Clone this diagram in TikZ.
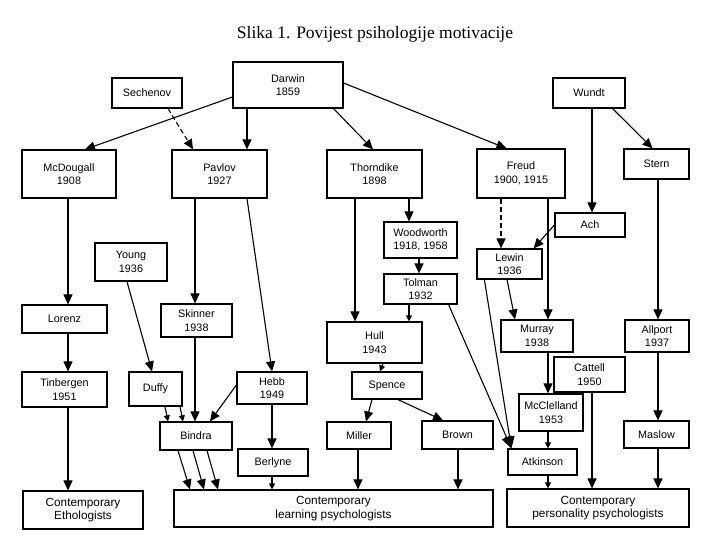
\documentclass[tikz,border=0pt]{standalone}
\usepackage{fontspec}
\setmainfont{Liberation Serif}
\setsansfont{Liberation Sans}
\usetikzlibrary{arrows.meta}

\begin{document}
\begin{tikzpicture}[x=1pt,y=-1pt,
    box/.style={draw, line width=1.2pt, align=center, inner sep=0pt, font=\sffamily\fontsize{10.8}{13.5}\selectfont},
    bigbox/.style={box, font=\sffamily\fontsize{11.8}{13.5}\selectfont},
    arr/.style={line width=1.1pt, -{Triangle[width=9pt,length=10pt]}},
    barr/.style={line width=1.1pt, -{Triangle[width=10pt,length=12pt]}},
    sarr/.style={line width=1.1pt, -{Triangle[width=6pt,length=6pt]}},
    darr/.style={arr, dash pattern=on 5pt off 3pt}]
\useasboundingbox (0,0) rectangle (720,540);
\node[font=\fontsize{17.5}{20}\selectfont] (title) at (375,34) {Slika 1. Povijest psihologije motivacije};

% first row
\node[box, minimum width=110pt, minimum height=46pt] (darwin) at (288,85) {Darwin\\1859};
\node[box, minimum width=70pt, minimum height=30pt] (sechenov) at (147,93) {Sechenov};
\node[box, minimum width=72pt, minimum height=30pt] (wundt) at (589,93) {Wundt};

% second row
\node[box, minimum width=94pt, minimum height=48pt] (mcdougall) at (69,174) {McDougall\\1908};
\node[box, minimum width=95pt, minimum height=48pt] (pavlov) at (219.5,174) {Pavlov\\1927};
\node[box, minimum width=95pt, minimum height=48pt] (thorndike) at (374.5,174) {Thorndike\\1898};
\node[box, minimum width=88pt, minimum height=49pt] (freud) at (521,173.5) {Freud\\1900, 1915};
\node[box, minimum width=65pt, minimum height=30pt] (stern) at (656.5,164) {Stern};

\node[box, minimum width=70pt, minimum height=24pt] (ach) at (590,225) {Ach};
\node[box, minimum width=73pt, minimum height=36pt] (woodworth) at (420.5,240) {Woodworth\\1918, 1958};
\node[box, minimum width=73pt, minimum height=30pt] (tolman) at (420.5,289) {Tolman\\1932};
\node[box, minimum width=65pt, minimum height=30pt] (lewin) at (509.5,264) {Lewin\\1936};
\node[box, minimum width=72pt, minimum height=38pt] (young) at (131,262) {Young\\1936};

\node[box, minimum width=85pt, minimum height=28pt] (lorenz) at (64.5,319) {Lorenz};
\node[box, minimum width=71pt, minimum height=33pt] (skinner) at (196.5,320.5) {Skinner\\1938};
\node[box, minimum width=95pt, minimum height=41pt] (hull) at (374.5,342.5) {Hull\\1943};
\node[box, minimum width=72pt, minimum height=32pt] (murray) at (537,336) {Murray\\1938};
\node[box, minimum width=64pt, minimum height=32pt] (allport) at (657,336) {Allport\\1937};
\node[box, minimum width=71pt, minimum height=35pt] (cattell) at (589.5,374.5) {Cattell\\1950};

\node[box, minimum width=85pt, minimum height=35pt] (tinbergen) at (64.5,389.5) {Tinbergen\\1951};
\node[box, minimum width=53pt, minimum height=34pt] (duffy) at (155.5,389) {Duffy};
\node[box, minimum width=70pt, minimum height=32pt] (hebb) at (272,388) {Hebb\\1949};
\node[box, minimum width=70pt, minimum height=27pt] (spence) at (387,385.5) {Spence};
\node[box, minimum width=64pt, minimum height=37pt] (mcclelland) at (551,412.5) {McClelland\\1953};

\node[box, minimum width=72pt, minimum height=28pt] (bindra) at (196,436) {Bindra};
\node[box, minimum width=64pt, minimum height=27pt] (miller) at (359,435.5) {Miller};
\node[box, minimum width=71pt, minimum height=28pt] (brown) at (457.5,435) {Brown};
\node[box, minimum width=65pt, minimum height=27pt] (maslow) at (656.5,434.5) {Maslow};
\node[box, minimum width=70pt, minimum height=27pt] (berlyne) at (273,462.5) {Berlyne};
\node[box, minimum width=69pt, minimum height=26pt] (atkinson) at (542.5,462) {Atkinson};

% bottom row
\node[bigbox, minimum width=120pt, minimum height=38pt] (etho) at (83,510) {Contemporary\\Ethologists};
\node[bigbox, minimum width=319pt, minimum height=37pt] (learning) at (333.5,508.5) {Contemporary\\learning psychologists};
\node[bigbox, minimum width=182pt, minimum height=38pt] (personality) at (598,508) {Contemporary\\personality psychologists};

% arrows from the top
\draw[arr] ([yshift=-12pt]darwin.west) -- ([xshift=16pt]mcdougall.north);
\draw[darr] ([xshift=21pt]sechenov.south) -- ([xshift=-26.5pt]pavlov.north);
\draw[arr, line width=1.6pt] ([xshift=-41pt]darwin.south) -- ([xshift=27.5pt]pavlov.north);
\draw[arr] ([xshift=-10pt]darwin.south east) -- ([xshift=-1.5pt]thorndike.north);
\draw[arr] ([yshift=2pt]darwin.east) -- ([xshift=30pt]freud.north west);
\draw[arr] ([xshift=3pt]wundt.south) -- ([xshift=2pt]ach.north);
\draw[arr] ([xshift=-13pt]wundt.south east) -- ([xshift=-4pt]stern.north);

\draw[darr] ([xshift=-20pt]freud.south) -- ([xshift=-8.5pt]lewin.north);
\draw[arr] ([xshift=27pt]freud.south) -- ([xshift=11pt]murray.north);
\draw[arr] (ach.west) -- ([xshift=-9pt]lewin.north east);
\draw[arr] ([xshift=1.5pt]stern.south) -- ([xshift=1pt]allport.north);

\draw[arr] ([xshift=34.5pt]thorndike.south) -- ([xshift=-11.5pt]woodworth.north);
\draw[arr] ([xshift=-19.5pt]thorndike.south) -- ([xshift=-19.5pt]hull.north);
\draw[arr, line width=1.6pt] ([xshift=-1.5pt]woodworth.south) -- ([xshift=-1.5pt]tolman.north);
\draw[sarr] ([xshift=-11.5pt]tolman.south) -- ([xshift=34.5pt]hull.north);
\draw[barr] ([xshift=-9pt]tolman.south east) -- ([xshift=4pt]atkinson.north west);
\draw[barr] ([xshift=8pt]lewin.south west) -- ([xshift=4pt]atkinson.north west);
\draw[arr] ([xshift=-2.5pt]lewin.south) -- ([xshift=-22pt]murray.north);
\draw[arr] ([xshift=11pt]murray.south) -- ([xshift=-3pt]mcclelland.north);
\draw[sarr] ([xshift=-3pt]mcclelland.south) -- ([xshift=5.5pt]atkinson.north);
\draw[arr] ([xshift=2.5pt]cattell.south) -- ([xshift=-6pt]personality.north);
\draw[arr] ([xshift=1pt]allport.south) -- ([xshift=1.5pt]maslow.north);
\draw[arr, line width=1.6pt] ([xshift=1.5pt]maslow.south) -- ([xshift=60pt]personality.north);
\draw[sarr] ([xshift=5.5pt]atkinson.south) -- ([xshift=-50pt]personality.north);

\draw[sarr] ([xshift=8.5pt]hull.south) -- ([xshift=-7pt]spence.north);
\draw[arr] ([xshift=-15pt]spence.south) -- ([xshift=7pt]miller.north);
\draw[arr] ([xshift=11pt]spence.south) -- ([xshift=-14.5pt]brown.north);
\draw[arr] ([xshift=-1pt]miller.south) -- ([xshift=24.5pt]learning.north);
\draw[arr, line width=1.6pt] ([xshift=0.5pt]brown.south) -- ([xshift=124.5pt]learning.north);

% left part
\draw[arr] ([xshift=-1pt]mcdougall.south) -- ([xshift=3.5pt]lorenz.north);
\draw[arr] ([xshift=3.5pt]lorenz.south) -- ([xshift=3.5pt]tinbergen.north);
\draw[arr] ([xshift=3.5pt]tinbergen.south) -- ([xshift=-15pt]etho.north);
\draw[arr] ([xshift=-24.5pt]pavlov.south) -- ([xshift=-1.5pt]skinner.north);
\draw[arr] ([xshift=27.5pt]pavlov.south) -- (hebb.north);
\draw[arr] ([xshift=-4pt]young.south) -- ([xshift=-3.5pt]duffy.north);
\draw[arr] ([xshift=-1.5pt]skinner.south) -- ([xshift=-1pt]bindra.north);
\draw[arr] ([yshift=3pt]hebb.west) -- ([xshift=14pt]bindra.north);
\draw[sarr] ([xshift=9.5pt]duffy.south) -- ([xshift=-28pt]bindra.north);
\draw[sarr] ([xshift=24.5pt]duffy.south) -- ([xshift=-13pt]bindra.north);
\draw[arr, line width=1.6pt] (hebb.south) -- ([xshift=-1pt]berlyne.north);
\draw[sarr] ([xshift=-1pt]berlyne.south) -- ([xshift=-61.5pt]learning.north);
\foreach \s/\t in {-18/-143.5, -3/-129.5, 11/-115.5}
    \draw[arr] ([xshift=\s pt]bindra.south) -- ([xshift=\t pt]learning.north);
\end{tikzpicture}
\end{document}
